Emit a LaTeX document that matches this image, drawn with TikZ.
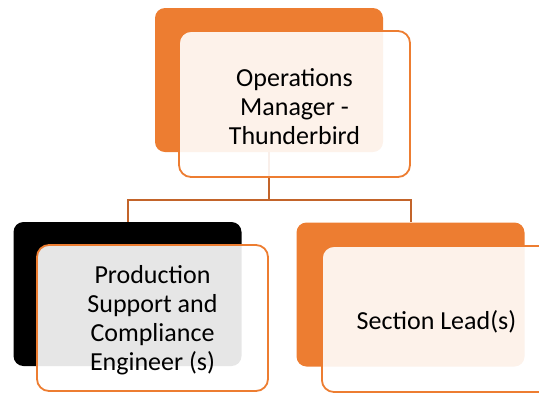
\documentclass[tikz,border=0pt]{standalone}
\usepackage{fontspec}
\setmainfont{Carlito}
\definecolor{accent}{HTML}{ED7D31}
\definecolor{connc}{RGB}{195,100,42}
\tikzset{
  x=1pt,y=-1pt,
  backbox/.style={rectangle, rounded corners=10pt, minimum width=228pt, minimum height=144pt, draw=none, inner sep=0pt},
  frontbox/.style={rectangle, rounded corners=12pt, minimum width=231pt, minimum height=146pt, draw=accent, line width=1.8pt, fill=white, fill opacity=0.9, inner sep=0pt},
  boxtext/.style={align=center, inner sep=0pt, font=\fontsize{26}{29}\selectfont, yshift=-2.5pt},
  conn/.style={draw=connc, line width=2pt},
}
\begin{document}
\begin{tikzpicture}
\useasboundingbox (0,0) rectangle (539,392);
\clip (0,0) rectangle (539,392);
% back boxes
\node[backbox, fill=accent] (tb) at (269,80) {};
\node[backbox, fill=black] (lb) at (127.5,294) {};
\node[backbox, fill=accent] (rb) at (410.5,294.5) {};
% connectors
\coordinate (hy) at (0,200);
\draw[conn] (tb.south) -- (tb.south |- hy) -| (lb.north);
\draw[conn] (tb.south |- hy) -| (rb.north);
% front boxes
\node[frontbox] (tf) at (294.5,104) {};
\node[frontbox] (lf) at (152.5,318) {};
\node[frontbox, anchor=west, minimum width=290pt] (rf) at (321,319) {};
% texts
\node[boxtext] (tt) at (tf.center) {Operations\\Manager -\\Thunderbird};
\node[boxtext] (lt) at (lf.center) {Production\\Support and\\Compliance\\Engineer (s)};
\node[boxtext] (rt) at (436.5,319) {Section Lead(s)};
\end{tikzpicture}
\end{document}
